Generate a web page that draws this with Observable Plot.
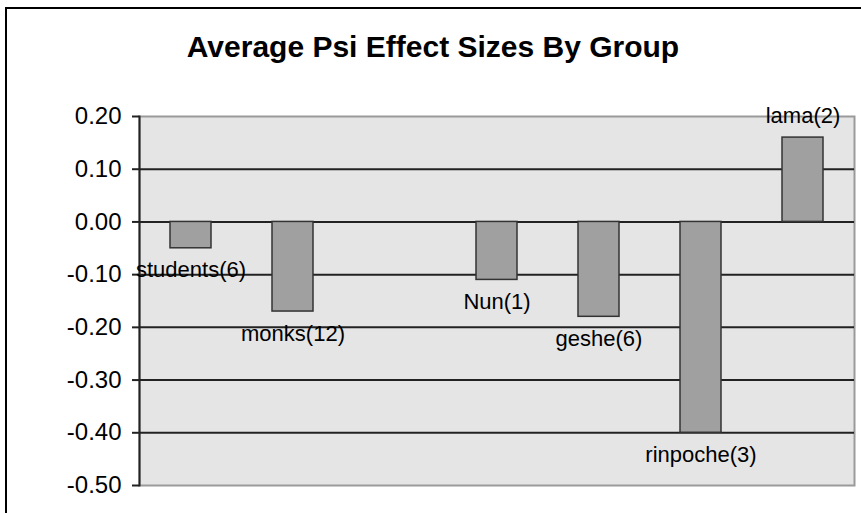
<!DOCTYPE html>
<html>
<head>
<meta charset="utf-8">
<script src="https://cdn.jsdelivr.net/npm/d3@7"></script>
<script src="https://cdn.jsdelivr.net/npm/@observablehq/plot@0.6"></script>
<style>
  html, body { margin: 0; padding: 0; background: #fff; }
  #wrap { position: relative; width: 861px; height: 513px; overflow: hidden; font-family: "Liberation Sans", Arial, sans-serif; }
  #title { position: absolute; left: 0; top: 32px; width: 866px; text-align: center; font-size: 30px; line-height: 30px; font-weight: bold; color: #000; z-index: 2; }
  #border { position: absolute; left: 5px; top: 7px; width: 1000px; height: 1000px; border-left: 2px solid #000; border-top: 2px solid #000; z-index: 3; pointer-events: none; }
  #chart { position: absolute; left: 0; top: 0; }
</style>
</head>
<body>
<div id="wrap">
  <div id="chart"></div>
  <div id="title">Average Psi Effect Sizes By Group</div>
  <div id="border"></div>
</div>
<script>
const groups = ["students(6)", "monks(12)", "", "Nun(1)", "geshe(6)", "rinpoche(3)", "lama(2)"];
const values = [-0.05, -0.17, null, -0.11, -0.18, -0.40, 0.16];
const yTicks = [0.2, 0.1, 0, -0.1, -0.2, -0.3, -0.4, -0.5];
const gridLines = [0.1, 0, -0.1, -0.2, -0.3, -0.4];

const data = groups.map((g, i) => ({group: g, value: values[i]})).filter(d => d.value != null);

const chart = Plot.plot({
  width: 861,
  height: 513,
  marginLeft: 139,
  marginRight: 7,
  marginTop: 116,
  marginBottom: 28,
  style: {background: "transparent", fontFamily: "'Liberation Sans', Arial, sans-serif"},
  x: {domain: groups, paddingInner: 0.6, paddingOuter: 0.3, axis: null},
  y: {domain: [-0.5, 0.2], axis: null},
  marks: [
    Plot.frame({fill: "#e5e5e5", stroke: "#9a9a9a", strokeWidth: 2}),
    Plot.ruleY(gridLines, {stroke: "#222", strokeWidth: 2}),
    Plot.frame({anchor: "left", stroke: "#222", strokeWidth: 2}),
    Plot.axisY({ticks: yTicks, tickSize: 7, tickPadding: 11, tickFormat: d => d.toFixed(2), fontSize: 24, stroke: "#222", fill: "#000", strokeWidth: 2, label: null}),
    Plot.barY(data, {x: "group", y: "value", fill: "#a0a0a0", stroke: "#333", strokeWidth: 1.5}),
    Plot.text(data.filter(d => d.value < 0), {x: "group", y: "value", text: "group", dy: 22, fontSize: 22, fill: "#000", lineAnchor: "middle"}),
    Plot.text(data.filter(d => d.value >= 0), {x: "group", y: "value", text: "group", dy: -22, fontSize: 22, fill: "#000", lineAnchor: "middle"})
  ]
});
document.getElementById("chart").appendChild(chart);
</script>
</body>
</html>
